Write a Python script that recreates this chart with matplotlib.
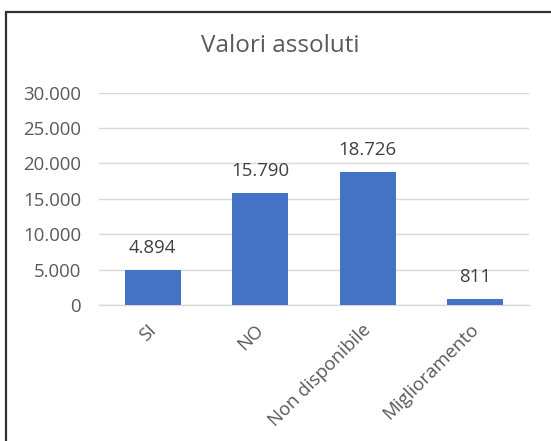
import matplotlib
matplotlib.use("Agg")
import matplotlib.pyplot as plt
from matplotlib.patches import Rectangle
from matplotlib.ticker import FuncFormatter
from matplotlib.transforms import ScaledTranslation

categories = ["SI", "NO", "Non disponibile", "Miglioramento"]
values = [4894, 15790, 18726, 811]
yticks = [0, 5000, 10000, 15000, 20000, 25000, 30000]

def fmt(v):
    return f"{int(v):,}".replace(",", ".")

plt.rcParams['font.family'] = ['Open Sans', 'DejaVu Sans']
W, H = 551, 441
fig = plt.figure(figsize=(W/100, H/100), dpi=100)
fig.patch.set_facecolor("white")

ax = fig.add_axes([99/W, 1-305/H, (529-99)/W, (305-92.7)/H])
x = range(len(categories))
bars = ax.bar(x, values, width=0.52, color="#4472C4", zorder=3)
ax.set_xlim(-0.5, len(categories)-0.5)
ax.set_ylim(0, 30000)
ax.set_yticks(yticks)
ax.yaxis.set_major_formatter(FuncFormatter(lambda v, p: fmt(v)))
ax.grid(axis="y", color="#D9D9D9", linewidth=1, zorder=0)
for s in ["top", "right", "left"]:
    ax.spines[s].set_visible(False)
ax.spines["bottom"].set_color("#D9D9D9")
ax.spines["bottom"].set_linewidth(1)
ax.tick_params(axis="both", length=0, colors="#595959", labelsize=13.4)
ax.tick_params(axis="y", pad=13)
ax.set_xticks(list(x))
ax.set_xticklabels(categories, rotation=45, ha="right", va="center",
                   rotation_mode="anchor", color="#595959", fontsize=13.4)
ax.tick_params(axis="x", pad=13)
off = ScaledTranslation(0.5/100, -4/100, fig.dpi_scale_trans)
for lbl in ax.get_xticklabels():
    lbl.set_transform(lbl.get_transform() + off)
for b, v in zip(bars, values):
    ax.annotate(fmt(v), (b.get_x()+b.get_width()/2, v), xytext=(0, 9.5),
                textcoords="offset points", ha="center", va="bottom",
                color="#404040", fontsize=13.4)

fig.text(280/W, 1-46.5/H, "Valori assoluti", ha="center", va="center",
         fontsize=17.5, color="#595959")

fig.patches.append(Rectangle((5.5/W, -0.05), 1.0, 1.05-11.7/H,
                             transform=fig.transFigure, fill=False,
                             edgecolor="#303030", linewidth=1.6, zorder=10))
fig.savefig("out.png", dpi=100)
